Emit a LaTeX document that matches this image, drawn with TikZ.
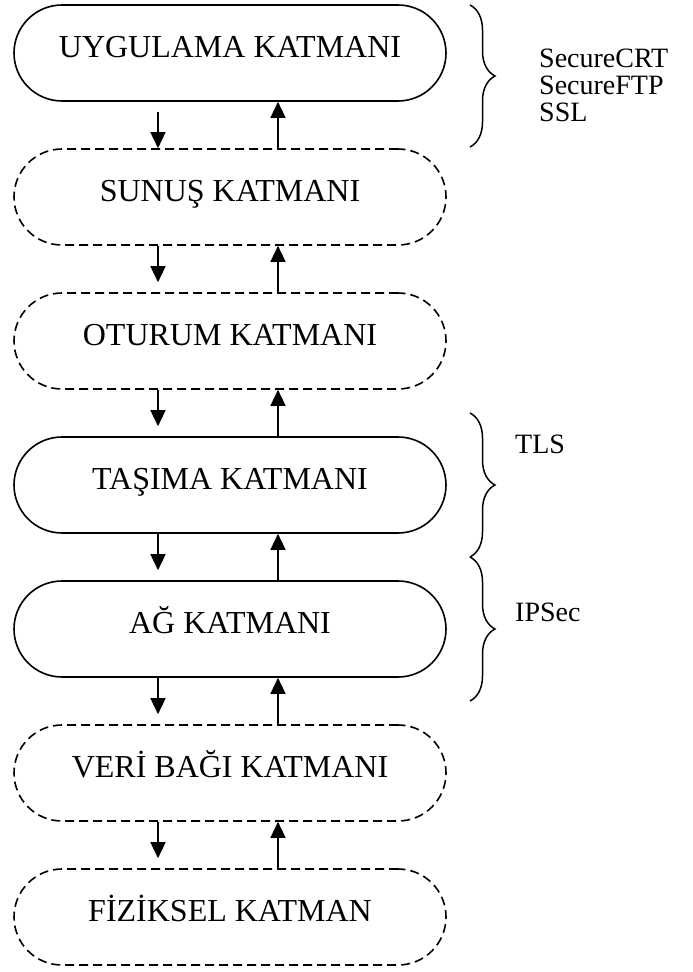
\documentclass[tikz,border=0pt]{standalone}
\usepackage{fontspec}
\setmainfont{Liberation Serif}
\usetikzlibrary{arrows.meta,calc,decorations.pathreplacing}

\begin{document}
\begin{tikzpicture}[x=1pt,y=-1pt,
  layer/.style={draw, line width=1.6pt, rounded corners=48pt,
    minimum width=432pt, minimum height=96pt, inner sep=0pt,
    text height=22pt, text depth=14pt,
    font=\fontsize{32}{38}\selectfont},
  dashedlayer/.style={layer, dash pattern=on 9pt off 5pt},
  flow/.style={line width=1.5pt, -{Triangle[length=16pt,width=15pt]}},
  bracket/.style={line width=1.5pt, decorate,
    decoration={brace, amplitude=25pt}},
  proto/.style={anchor=base west, inner sep=0pt,
    font=\fontsize{28}{32}\selectfont}]

\useasboundingbox (0,0) rectangle (693,972);

% the seven layers of the OSI model
\node[layer]       (uyg) at (230,53)  {UYGULAMA KATMANI};
\node[dashedlayer] (sun) at (230,197) {SUNUŞ KATMANI};
\node[dashedlayer] (otu) at (230,341) {OTURUM KATMANI};
\node[layer]       (tas) at (230,485) {TAŞIMA KATMANI};
\node[layer]       (ag)  at (230,629) {AĞ KATMANI};
\node[dashedlayer] (ver) at (230,773) {VERİ BAĞI KATMANI};
\node[dashedlayer] (fiz) at (230,917) {FİZİKSEL KATMAN};

% data passing down and up between neighbouring layers
\draw[flow, shorten <=10pt] ($(uyg.south)+(-72,0)$) -- ($(sun.north)+(-72,0)$);
\draw[flow] ($(sun.north)+(48,0)$) -- ($(uyg.south)+(48,0)$);
\foreach \a/\b in {sun/otu, otu/tas, tas/ag, ag/ver, ver/fiz}{
  \draw[flow, shorten >=10pt] ($(\a.south)+(-72,0)$) -- ($(\b.north)+(-72,0)$);
  \draw[flow] ($(\b.north)+(48,0)$) -- ($(\a.south)+(48,0)$);
}

% security protocols working on each layer
\coordinate (b1t) at (470,5);   \coordinate (b1b) at (470,147);
\coordinate (b2t) at (470,413); \coordinate (b2b) at (470,557);
\coordinate (b3t) at (470,557); \coordinate (b3b) at (470,701);
\draw[bracket] (b1t) -- (b1b);
\draw[bracket] (b2t) -- (b2b);
\draw[bracket] (b3t) -- (b3b);

\node[proto] (crt) at (539,67)  {SecureCRT};
\node[proto] (ftp) at (539,94)  {SecureFTP};
\node[proto] (ssl) at (539,121) {SSL};
\node[proto] (tls) at (515,453) {TLS};
\node[proto] (ips) at (515,621) {IPSec};
\end{tikzpicture}
\end{document}
